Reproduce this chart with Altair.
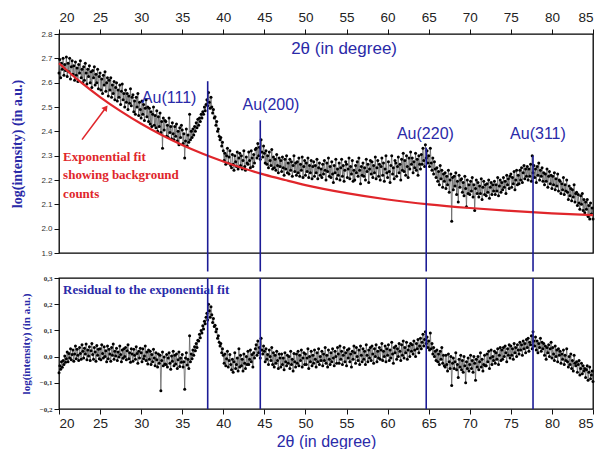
import altair as alt
import numpy as np
import pandas as pd

# ---------------- data ----------------
# 2-theta grid: 20.0 .. 85.0 in steps of 0.1 degree
theta_start = 20.0
theta_step = 0.1

# observed log(intensity), in thousandths (top panel)
intensity_milli = [
    2640, 2695, 2620, 2680, 2655, 2700, 2630, 2675, 2650, 2705,
    2625, 2680, 2645, 2700, 2615, 2665, 2690, 2635, 2670, 2610,
    2685, 2630, 2660, 2605, 2675, 2640, 2690, 2620, 2655, 2600,
    2665, 2610, 2680, 2640, 2595, 2655, 2625, 2670, 2600, 2645,
    2580, 2650, 2620, 2665, 2590, 2635, 2600, 2655, 2575, 2625,
    2640, 2570, 2615, 2555, 2630, 2590, 2645, 2565, 2600, 2620,
    2545, 2610, 2570, 2620, 2540, 2590, 2555, 2605, 2530, 2580,
    2600, 2525, 2570, 2540, 2590, 2510, 2565, 2595, 2530, 2555,
    2500, 2570, 2520, 2555, 2490, 2545, 2515, 2575, 2505, 2540,
    2550, 2480, 2525, 2470, 2540, 2500, 2555, 2465, 2520, 2490,
    2455, 2525, 2470, 2510, 2445, 2495, 2530, 2460, 2500, 2440,
    2495, 2430, 2480, 2420, 2470, 2500, 2425, 2465, 2415, 2485,
    2400, 2460, 2420, 2475, 2395, 2440, 2330, 2455, 2405, 2445,
    2440, 2380, 2425, 2375, 2455, 2395, 2420, 2370, 2435, 2390,
    2365, 2420, 2380, 2430, 2360, 2400, 2345, 2415, 2375, 2425,
    2405, 2350, 2390, 2290, 2360, 2410, 2340, 2385, 2355, 2470,
    2365, 2400, 2375, 2410, 2385, 2420, 2400, 2435, 2415, 2450,
    2425, 2455, 2440, 2470, 2455, 2480, 2470, 2500, 2485, 2510,
    2530, 2505, 2560, 2520, 2495, 2540, 2500, 2475, 2490, 2455,
    2460, 2425, 2440, 2400, 2410, 2380, 2365, 2375, 2340, 2355,
    2320, 2280, 2310, 2265, 2300, 2330, 2270, 2295, 2320, 2260,
    2250, 2305, 2265, 2240, 2300, 2275, 2255, 2315, 2245, 2290,
    2310, 2260, 2300, 2245, 2280, 2320, 2255, 2240, 2295, 2270,
    2265, 2315, 2280, 2250, 2320, 2290, 2255, 2305, 2270, 2325,
    2330, 2290, 2350, 2300, 2335, 2285, 2365, 2315, 2295, 2340,
    2310, 2270, 2320, 2265, 2300, 2250, 2315, 2280, 2260, 2325,
    2245, 2295, 2250, 2285, 2240, 2305, 2260, 2230, 2290, 2255,
    2280, 2235, 2295, 2250, 2220, 2285, 2245, 2300, 2230, 2270,
    2225, 2285, 2240, 2275, 2215, 2260, 2300, 2235, 2270, 2220,
    2275, 2230, 2290, 2215, 2265, 2240, 2295, 2210, 2255, 2280,
    2220, 2270, 2235, 2290, 2210, 2260, 2230, 2280, 2205, 2255,
    2275, 2215, 2260, 2230, 2285, 2205, 2250, 2270, 2220, 2245,
    2210, 2265, 2225, 2280, 2240, 2200, 2270, 2235, 2290, 2215,
    2255, 2210, 2275, 2225, 2190, 2260, 2230, 2285, 2205, 2245,
    2220, 2270, 2200, 2250, 2285, 2215, 2260, 2195, 2240, 2275,
    2265, 2210, 2245, 2290, 2205, 2255, 2225, 2280, 2195, 2240,
    2200, 2260, 2230, 2275, 2215, 2290, 2240, 2185, 2255, 2220,
    2270, 2215, 2250, 2200, 2285, 2235, 2265, 2190, 2245, 2280,
    2225, 2275, 2210, 2260, 2230, 2295, 2205, 2250, 2280, 2215,
    2265, 2200, 2255, 2290, 2220, 2270, 2195, 2245, 2300, 2230,
    2210, 2275, 2235, 2190, 2260, 2300, 2225, 2250, 2205, 2280,
    2270, 2215, 2255, 2295, 2230, 2265, 2200, 2285, 2240, 2310,
    2235, 2280, 2220, 2300, 2255, 2210, 2290, 2245, 2315, 2265,
    2290, 2230, 2275, 2250, 2310, 2240, 2285, 2220, 2300, 2265,
    2245, 2305, 2265, 2330, 2280, 2255, 2345, 2290, 2320, 2270,
    2300, 2255, 2330, 2270, 2240, 2290, 2225, 2275, 2245, 2210,
    2250, 2195, 2235, 2180, 2260, 2205, 2240, 2170, 2225, 2195,
    2230, 2165, 2215, 2180, 2240, 2150, 2200, 2225, 2030, 2210,
    2160, 2215, 2175, 2230, 2140, 2195, 2110, 2220, 2170, 2200,
    2205, 2150, 2190, 2135, 2215, 2165, 2090, 2200, 2145, 2180,
    2140, 2195, 2155, 2210, 2130, 2180, 2075, 2165, 2200, 2145,
    2190, 2130, 2175, 2145, 2205, 2120, 2170, 2195, 2140, 2180,
    2135, 2185, 2150, 2200, 2125, 2170, 2190, 2140, 2180, 2155,
    2195, 2140, 2180, 2155, 2210, 2135, 2175, 2200, 2150, 2190,
    2160, 2210, 2170, 2195, 2145, 2220, 2180, 2205, 2165, 2215,
    2225, 2170, 2210, 2185, 2235, 2160, 2200, 2240, 2180, 2220,
    2185, 2240, 2200, 2250, 2190, 2230, 2260, 2205, 2245, 2215,
    2255, 2200, 2245, 2215, 2265, 2195, 2300, 2230, 2260, 2210,
    2245, 2190, 2255, 2220, 2270, 2200, 2240, 2215, 2250, 2195,
    2230, 2180, 2225, 2195, 2245, 2170, 2215, 2235, 2185, 2220,
    2165, 2215, 2180, 2230, 2160, 2205, 2175, 2225, 2155, 2200,
    2195, 2145, 2185, 2160, 2210, 2140, 2180, 2155, 2200, 2150,
    2120, 2175, 2135, 2165, 2115, 2160, 2130, 2180, 2110, 2145,
    2150, 2095, 2140, 2105, 2080, 2135, 2100, 2145, 2075, 2120,
    2065, 2110, 2080, 2120, 2050, 2095, 2040, 2105, 2060, 2085,
    2040,
]

# residual to the exponential fit, in thousandths (bottom panel)
residual_milli = [
    -62, -35, -48, -20, -41, -15, -30, 2, -22, -8,
    18, -20, 12, -5, 30, -12, 8, 25, -18, 10,
    40, -8, 28, 5, -15, 35, 12, -10, 45, 20,
    -5, 32, 10, 48, -12, 25, 2, 38, -15, 22,
    50, 8, -10, 35, 18, -18, 42, 5, 28, -8,
    30, -12, 45, 12, -5, 38, 0, 22, -20, 40,
    -8, 28, 10, -18, 35, 5, 48, -10, 20, 2,
    32, -15, 18, -2, 40, 8, -20, 25, -6, 30,
    0, 35, -12, 22, 45, -8, 15, -22, 30, 10,
    -18, 28, 5, -10, 38, 12, -25, 20, -5, 32,
    15, -20, 30, -8, 2, 40, -15, 18, -28, 25,
    -10, 20, -30, 8, -20, 28, -5, -35, 15, -12,
    -40, 10, -25, 5, -130, -15, 18, -35, -2, -28,
    -30, 8, -40, -5, 15, -25, -48, 2, -18, 20,
    -35, 5, -28, 10, -45, -12, 18, -38, -5, -22,
    8, -40, -20, -125, -5, 15, -32, -10, -45, 80,
    -20, 10, -8, 25, 5, 38, 22, 50, 35, 62,
    60, 85, 72, 100, 90, 118, 105, 135, 125, 150,
    165, 140, 200, 175, 150, 190, 160, 130, 145, 115,
    120, 95, 105, 70, 80, 55, 40, 50, 15, 30,
    5, -25, 10, -35, -8, 20, -40, -15, 8, -30,
    -50, -10, -60, -20, 15, -45, -30, -5, -55, 30,
    -40, 5, -35, -10, -55, 10, -25, -45, 0, -30,
    20, -30, -10, 25, -20, 8, -40, 15, -5, 30,
    45, 5, 60, 15, 35, -5, 70, 25, 10, 40,
    20, -20, 30, -10, 8, -30, 25, 0, -15, 35,
    -30, 15, -40, 5, -25, 20, -15, -45, 10, -5,
    -40, 10, -30, -5, -50, 15, -20, -35, 5, -25,
    0, -45, 20, -30, -10, -55, 12, -20, -40, 10,
    -25, 20, -35, 5, -15, 25, -40, -5, 15, -30,
    10, -30, -5, 30, -45, 0, -20, 20, -35, 5,
    -25, 25, -10, -40, 15, -20, 30, -30, 0, -15,
    20, -35, 10, -15, 35, -25, 5, -40, 25, -10,
    -30, 15, -20, 30, -5, -35, 20, 0, -25, 35,
    10, -25, 40, -10, 20, -30, 5, 35, -20, 15,
    -35, 25, -5, 30, -20, 10, -40, 20, -10, 40,
    15, -25, 35, 0, -15, 25, -30, 40, 5, -20,
    30, -10, 20, -30, 45, 5, -20, 25, -5, 35,
    -15, 40, 10, -25, 30, 0, 45, -20, 20, -5,
    35, -10, 25, 50, -15, 20, 0, 40, -20, 30,
    5, 45, -15, 25, -5, 55, 10, -25, 35, 15,
    40, -10, 30, 0, 50, 20, -15, 45, 5, 60,
    -5, 35, 15, 55, -10, 25, 40, 0, 50, 20,
    45, 10, 60, 25, 0, 50, 30, 65, 15, 40,
    70, 30, 55, 85, 40, 65, 95, 50, 75, 35,
    60, 25, 90, 30, 50, 10, 35, 0, 20, -15,
    25, -20, 10, -30, 20, -10, 35, -25, 5, -35,
    -40, 5, -30, -55, 10, -20, -45, 0, -110, -25,
    -5, -45, -20, 15, -50, -30, -80, -10, -40, 5,
    -50, -15, -60, 0, -35, -100, -20, -45, -5, -55,
    -30, 5, -45, -15, -60, 0, -25, -90, -10, -40,
    0, -50, -20, 15, -40, -10, -55, -30, 5, -35,
    -35, 10, -20, 20, -45, -5, 25, -30, 0, -15,
    20, -25, 15, -10, 30, -30, 5, 35, -15, 25,
    -10, 35, 0, 40, 15, -20, 30, 5, 45, -5,
    40, 5, 30, -10, 50, 15, 35, 0, 45, 25,
    10, 55, 25, 45, 5, 60, 30, 50, 15, 65,
    35, 70, 20, 55, 45, 80, 30, 95, 60, 40,
    75, 25, 60, 15, 50, 35, 70, 20, 55, 30,
    50, 5, 40, -10, 35, 15, 45, 0, 30, 55,
    -5, 35, 10, -15, 40, 0, 25, -20, 30, 5,
    20, -25, 10, -10, 25, -30, 5, -15, 30, -20,
    -40, 0, -30, 10, -45, -15, -55, 5, -25, -35,
    -20, -60, -30, -15, -70, -45, -25, -65, -35, -55,
    -45, -80, -50, -35, -90, -60, -40, -85, -70, -55,
    -95,
]

# exponential background fit (red curve)
fit_theta = [20, 22.5, 25, 27.5, 30, 32.5, 35, 37.5, 40, 42.5, 45, 47.5,
             50, 55, 60, 65, 70, 75, 80, 85]
fit_logI = [2.680, 2.606, 2.541, 2.483, 2.431, 2.385, 2.344, 2.308, 2.276,
            2.247, 2.222, 2.200, 2.179, 2.146, 2.120, 2.100, 2.085, 2.073,
            2.063, 2.056]

# Au reflections
peak_names = ["Au(111)", "Au(200)", "Au(220)", "Au(311)"]
peak_theta = [38.1, 44.5, 64.7, 77.7]
peak_line_top = [2.606, 2.445, 2.333, 2.300]
peak_label_theta = [33.4, 45.8, 64.6, 78.3]
peak_label_logI = [2.535, 2.507, 2.387, 2.387]

top_ticks = [1.9, 2.0, 2.1, 2.2, 2.3, 2.4, 2.5, 2.6, 2.7, 2.8]
bottom_ticks = [-0.2, -0.1, 0.0, 0.1, 0.2, 0.3]
x_ticks = list(range(20, 90, 5))

# ---------------- styling ----------------
SANS = "Liberation Sans"
SERIF = "Liberation Serif"
BLUE = "#2a2aa8"
LINE_BLUE = "#1c1c96"
RED = "#e0262b"
W = 534
H_TOP = 219
H_BOT = 131

n = len(residual_milli)
theta = np.round(theta_start + theta_step * np.arange(n), 1)
df = pd.DataFrame({
    "theta": theta,
    "logI": np.array(intensity_milli) / 1000.0,
    "resid": np.array(residual_milli) / 1000.0,
})
fit_df = pd.DataFrame({"theta": fit_theta, "logI": fit_logI})
peaks_df = pd.DataFrame({
    "theta": peak_theta, "name": peak_names, "logI": peak_line_top,
    "lab_x": peak_label_theta, "lab_y": peak_label_logI,
})
peaks_df["gap_end"] = 1.824  # lines continue through the gap into the lower panel
peaks_df["resid"] = 0.3
peaks_df["rbot"] = -0.2

xscale = alt.Scale(domain=[20, 85], nice=False, zero=False)
yscale_top = alt.Scale(domain=[1.9, 2.8], nice=False, zero=False)
yscale_bot = alt.Scale(domain=[-0.2, 0.3], nice=False, zero=False)

x_axis_top = alt.Axis(orient="top", values=x_ticks, title="", grid=False,
                      domain=False, labelFont=SANS, labelFontSize=13.5,
                      labelColor="#222", tickColor="#111", tickSize=5,
                      labelPadding=5)
y_axis_top = alt.Axis(values=top_ticks, format=".1f", grid=False, domain=False,
                      labelFont=SANS, labelFontSize=8, labelColor="#333",
                      tickColor="#111", tickSize=5, labelPadding=2,
                      title="log(intensity) (in a.u.)", titleFont=SERIF,
                      titleFontWeight="bold", titleFontSize=14,
                      titleColor=BLUE, titlePadding=16)

x_axis_bot = alt.Axis(orient="bottom", values=x_ticks, grid=False, domain=False,
                      labelFont=SANS, labelFontSize=13.5, labelColor="#222",
                      tickColor="#111", tickSize=5, labelPadding=2,
                      title="2θ (in degree)", titleFont=SANS,
                      titleFontWeight="normal", titleFontSize=16,
                      titleColor=BLUE, titlePadding=4)
y_axis_bot = alt.Axis(values=bottom_ticks, grid=False, domain=False,
                      labelExpr="replace(format(datum.value, '.1f'), '.', ',')",
                      labelFont=SERIF, labelFontWeight="bold", labelFontSize=7,
                      labelColor="#333", tickColor="#111", tickSize=5,
                      labelPadding=2, title="log(intensity) (in a.u.)",
                      titleFont=SERIF, titleFontWeight="bold", titleFontSize=11,
                      titleColor=BLUE, titlePadding=8)

# ---------------- top panel ----------------
enc_top = dict(
    x=alt.X("theta:Q", scale=xscale, axis=x_axis_top),
    y=alt.Y("logI:Q", scale=yscale_top, axis=y_axis_top),
)
top_line = alt.Chart(df).mark_line(color="#555", strokeWidth=0.7).encode(**enc_top)
top_pts = alt.Chart(df).mark_circle(size=9, color="black", opacity=1).encode(**enc_top)

fit_line = alt.Chart(fit_df).mark_line(
    color=RED, strokeWidth=2.2, interpolate="monotone"
).encode(**enc_top)

peak_rules_top = alt.Chart(peaks_df).mark_rule(
    color=LINE_BLUE, strokeWidth=1.6
).encode(**enc_top, y2="gap_end:Q")

peak_labels = alt.Chart(peaks_df).mark_text(
    font=SANS, fontSize=16, color=BLUE
).encode(x=alt.X("lab_x:Q", scale=xscale, axis=x_axis_top),
         y=alt.Y("lab_y:Q", scale=yscale_top, axis=y_axis_top), text="name:N")

top_title = alt.Chart(pd.DataFrame({"t": ["2θ (in degree)"], "theta": [54.7], "logI": [2.740]})).mark_text(
    font=SANS, fontSize=17, color=BLUE
).encode(**enc_top, text="t:N")

note_df = pd.DataFrame({
    "t": ["Exponential fit", "showing background", "counts"],
    "theta": [20.5, 20.5, 20.5],
    "logI": [2.296, 2.221, 2.143],
})
note_text = alt.Chart(note_df).mark_text(
    font=SERIF, fontSize=13, fontWeight="bold", color=RED, align="left"
).encode(**enc_top, text="t:N")

arrow_df = pd.DataFrame({"theta": [22.8, 25.7], "logI": [2.366, 2.497], "o": [0, 1]})
arrow_line = alt.Chart(arrow_df).mark_line(color=RED, strokeWidth=1.6).encode(
    **enc_top, order="o:Q")
arrow_head = alt.Chart(arrow_df.iloc[[1]]).mark_point(
    shape="triangle-up", filled=True, color=RED, size=45, angle=37, opacity=1
).encode(**enc_top)

top = alt.layer(
    top_line, top_pts, fit_line, peak_rules_top, peak_labels, top_title,
    note_text, arrow_line, arrow_head
).properties(width=W, height=H_TOP)

# ---------------- bottom panel ----------------
enc_bot = dict(
    x=alt.X("theta:Q", scale=xscale, axis=x_axis_bot),
    y=alt.Y("resid:Q", scale=yscale_bot, axis=y_axis_bot),
)
bot_line = alt.Chart(df).mark_line(color="#555", strokeWidth=0.7).encode(**enc_bot)
bot_pts = alt.Chart(df).mark_circle(size=9, color="black", opacity=1).encode(**enc_bot)

peak_rules_bot = alt.Chart(peaks_df).mark_rule(
    color=LINE_BLUE, strokeWidth=1.6
).encode(**enc_bot, y2="rbot:Q")

resid_label = alt.Chart(pd.DataFrame({"t": ["Residual to the exponential fit"],
                                      "theta": [20.5], "resid": [0.254]})).mark_text(
    font=SERIF, fontSize=13, fontWeight="bold", color=BLUE, align="left"
).encode(**enc_bot, text="t:N")

bottom = alt.layer(bot_line, bot_pts, peak_rules_bot, resid_label).properties(
    width=W, height=H_BOT)

chart = alt.vconcat(top, bottom, spacing=0).properties(
    padding={"left": 2, "top": 1, "right": 0, "bottom": 0}
).configure_view(stroke="black", strokeWidth=1.3)

chart.save("out.html", embed_options={"renderer": "svg", "actions": False})
